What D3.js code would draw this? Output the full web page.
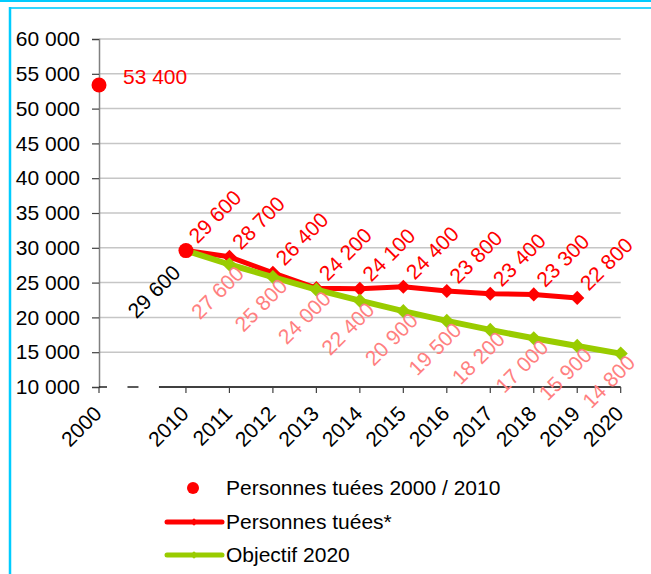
<!DOCTYPE html>
<html>
<head>
<meta charset="utf-8">
<script src="https://cdn.jsdelivr.net/npm/d3@7"></script>
<style>
  body { margin: 0; background: #fff; }
  svg { font-family: "Liberation Sans", Arial, sans-serif; }
</style>
</head>
<body>
<div id="placeholder"></div>
<script>
// data
var categories = ["2000", "", "2010", "2011", "2012", "2013", "2014", "2015", "2016", "2017", "2018", "2019", "2020"];
var yTicks = [10000, 15000, 20000, 25000, 30000, 35000, 40000, 45000, 50000, 55000, 60000];

var refYears = ["2000", "2010"];
var refValues = [53400, 29600];

var tueesYears = ["2010", "2011", "2012", "2013", "2014", "2015", "2016", "2017", "2018", "2019"];
var tuees = [29600, 28700, 26400, 24200, 24100, 24400, 23800, 23400, 23300, 22800];

var objYears = ["2010", "2011", "2012", "2013", "2014", "2015", "2016", "2017", "2018", "2019", "2020"];
var objectif = [29600, 27600, 25800, 24000, 22400, 20900, 19500, 18200, 17000, 15900, 14800];

var legendLabels = ["Personnes tuées 2000 / 2010", "Personnes tuées*", "Objectif 2020"];

var width = 651, height = 574;
var RED = "#ff0000", GREEN = "#99cc00", PINK = "#ff8080";

var fr = d3.formatLocale({decimal: ",", thousands: " ", grouping: [3], currency: ["", " €"]});
var fmt = fr.format(",");

var svg = d3.select("#placeholder")
  .append("svg")
  .attr("width", width)
  .attr("height", height);

// frame
svg.append("rect").attr("x", 0).attr("y", 0).attr("width", width).attr("height", 2).attr("fill", "#00ccff");
svg.append("line").attr("x1", 10).attr("x2", width).attr("y1", 8).attr("y2", 8)
  .attr("stroke", "#33d6ff").attr("stroke-width", 2);
svg.append("line").attr("x1", 10).attr("x2", 10).attr("y1", 7).attr("y2", height)
  .attr("stroke", "#00ccff").attr("stroke-width", 2.5);

var x = d3.scalePoint().domain(categories).range([99, 620.7]);
var y = d3.scaleLinear().domain([10000, 60000]).range([387, 39]);

// grid
svg.append("g")
  .selectAll("line")
  .data(yTicks.slice(1))
  .enter()
  .append("line")
  .attr("x1", x("2000")).attr("x2", x("2020"))
  .attr("y1", function(d) { return y(d); })
  .attr("y2", function(d) { return y(d); })
  .attr("stroke", "#c6c6c6")
  .attr("stroke-width", 1.5);

// y axis
var yAxis = svg.append("g")
  .attr("transform", "translate(" + x("2000") + ",0)")
  .call(d3.axisLeft(y).tickValues(yTicks).tickSize(7).tickPadding(12).tickFormat(fmt));
yAxis.select(".domain").attr("stroke", "#808080").attr("stroke-width", 1.5);
yAxis.selectAll(".tick line").attr("stroke", "#404040").attr("stroke-width", 1.2);
yAxis.selectAll("text").attr("font-size", 21).attr("fill", "#000");

// x axis, broken between 2000 and 2010
var x0 = x("2000"), xb = x(""), x10 = x("2010");
var segs = [[x0, x0 + 8], [xb - 15, xb - 4], [x10 - 27, x("2020")]];
svg.append("g")
  .selectAll("line")
  .data(segs)
  .enter()
  .append("line")
  .attr("x1", function(d) { return d[0]; })
  .attr("x2", function(d) { return d[1]; })
  .attr("y1", y(10000)).attr("y2", y(10000))
  .attr("stroke", "#000").attr("stroke-width", 1.3);

var xTicks = categories.filter(function(c) { return c !== ""; });
var xg = svg.append("g");
xg.selectAll("line")
  .data(xTicks)
  .enter()
  .append("line")
  .attr("x1", function(d) { return x(d); })
  .attr("x2", function(d) { return x(d); })
  .attr("y1", y(10000)).attr("y2", y(10000) + 6)
  .attr("stroke", "#404040").attr("stroke-width", 1.2);
xg.selectAll("text")
  .data(xTicks)
  .enter()
  .append("text")
  .text(function(d) { return d; })
  .attr("transform", function(d) { return "translate(" + (x(d) + 4) + "," + (y(10000) + 28) + ") rotate(-45)"; })
  .attr("text-anchor", "end")
  .attr("font-size", 21);

var sq = d3.symbol().type(d3.symbolSquare).size(100);

var tData = tueesYears.map(function(k, i) { return {k: k, v: tuees[i]}; });
var oData = objYears.map(function(k, i) { return {k: k, v: objectif[i]}; });
var rData = refYears.map(function(k, i) { return {k: k, v: refValues[i]}; });

var line = d3.line()
  .x(function(d) { return x(d.k); })
  .y(function(d) { return y(d.v); });

// Personnes tuées*
svg.append("path").datum(tData).attr("d", line)
  .attr("fill", "none").attr("stroke", RED).attr("stroke-width", 5).attr("stroke-linejoin", "round");
svg.selectAll(".tm").data(tData).enter().append("path")
  .attr("d", sq).attr("fill", RED)
  .attr("transform", function(d) { return "translate(" + x(d.k) + "," + y(d.v) + ") rotate(45)"; });

// Objectif 2020
svg.append("path").datum(oData).attr("d", line)
  .attr("fill", "none").attr("stroke", GREEN).attr("stroke-width", 6).attr("stroke-linejoin", "round");
svg.selectAll(".om").data(oData).enter().append("path")
  .attr("d", sq).attr("fill", GREEN)
  .attr("transform", function(d) { return "translate(" + x(d.k) + "," + y(d.v) + ") rotate(45)"; });

// 2000 / 2010 points
svg.selectAll(".rc").data(rData).enter().append("circle")
  .attr("cx", function(d) { return x(d.k); })
  .attr("cy", function(d) { return y(d.v); })
  .attr("r", 7.5)
  .attr("fill", RED);

// labels
svg.append("text")
  .text(fmt(rData[0].v))
  .attr("x", x(rData[0].k) + 24).attr("y", y(rData[0].v) - 8)
  .attr("dy", "0.35em").attr("font-size", 21).attr("fill", RED);

svg.selectAll(".tl").data(tData).enter().append("text")
  .text(function(d) { return fmt(d.v); })
  .attr("transform", function(d) { return "translate(" + (x(d.k) + 29) + "," + (y(d.v) - 34) + ") rotate(-45)"; })
  .attr("text-anchor", "middle").attr("dy", "0.35em")
  .attr("font-size", 21).attr("fill", RED);

svg.selectAll(".ol").data(oData).enter().append("text")
  .text(function(d) { return fmt(d.v); })
  .attr("transform", function(d, i) {
    if (i === 0) return "translate(" + (x(d.k) - 32) + "," + (y(d.v) + 41) + ") rotate(-45)";
    return "translate(" + (x(d.k) - 12) + "," + (y(d.v) + 28) + ") rotate(-45)";
  })
  .attr("text-anchor", "middle").attr("dy", "0.35em")
  .attr("font-size", 21)
  .attr("fill", function(d, i) { return i === 0 ? "#000" : PINK; });

// legend
var lg = svg.append("g");
var ly = [488, 522, 555];
lg.append("circle").attr("cx", 193).attr("cy", ly[0]).attr("r", 6).attr("fill", RED);
[RED, GREEN].forEach(function(c, i) {
  lg.append("line").attr("x1", 167).attr("x2", 222).attr("y1", ly[i + 1]).attr("y2", ly[i + 1])
    .attr("stroke", c).attr("stroke-width", 5).attr("stroke-linecap", "round");
  lg.append("path").attr("d", d3.symbol().type(d3.symbolSquare).size(30)).attr("fill", c)
    .attr("transform", "translate(194," + ly[i + 1] + ") rotate(45)");
});
lg.selectAll("text").data(legendLabels).enter().append("text")
  .text(function(d) { return d; })
  .attr("x", 226)
  .attr("y", function(d, i) { return ly[i]; })
  .attr("dy", "0.35em")
  .attr("font-size", 21);
</script>
</body>
</html>
